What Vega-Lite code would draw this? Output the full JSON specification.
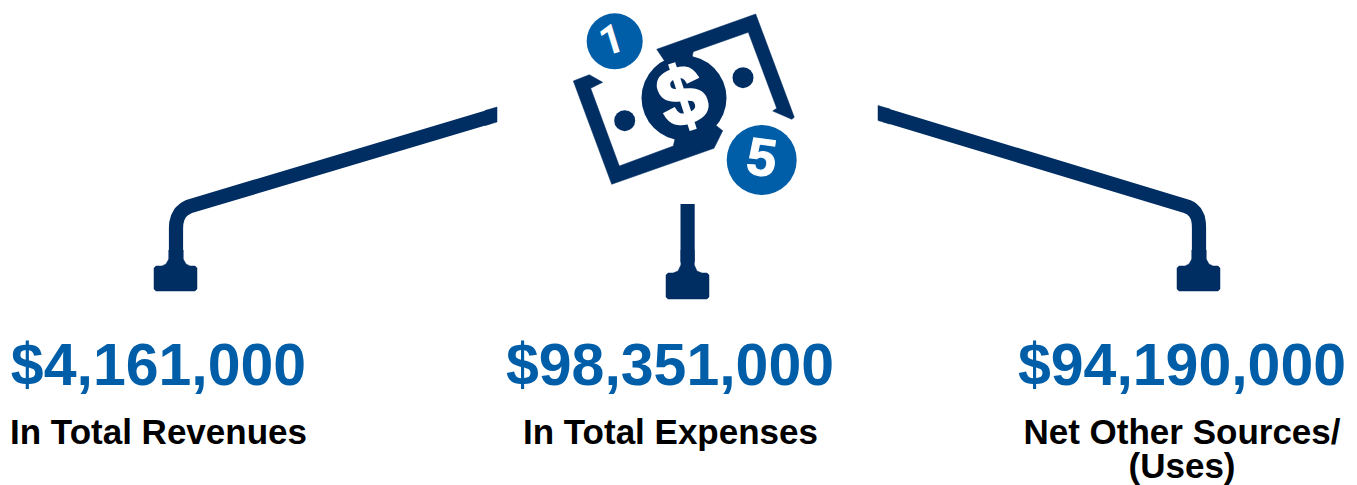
{"$schema":"https://vega.github.io/schema/vega-lite/v6.json","width":1357,"height":485,"padding":0,"autosize":{"type":"none"},"background":"white","config":{"view":{"stroke":null}},
"datasets":{
"shapes":[
{"part":"billTop","i":1,"x":656.7,"y":49.3},{"part":"billTop","i":2,"x":755.7,"y":14},{"part":"billTop","i":3,"x":794.3,"y":117.3},{"part":"billTop","i":4,"x":791.7,"y":119.3},{"part":"billTop","i":5,"x":772.7,"y":111},{"part":"billTop","i":6,"x":776.7,"y":108.3},{"part":"billTop","i":7,"x":748.3,"y":32.3},{"part":"billTop","i":8,"x":693.3,"y":51.7},{"part":"billTop","i":9,"x":684,"y":90},{"part":"billTop","i":10,"x":656.7,"y":49.3},
{"part":"billBottom","i":1,"x":573.3,"y":81},{"part":"billBottom","i":2,"x":589.3,"y":74.7},{"part":"billBottom","i":3,"x":602.7,"y":82.3},{"part":"billBottom","i":4,"x":590.7,"y":88.3},{"part":"billBottom","i":5,"x":619.3,"y":166},{"part":"billBottom","i":6,"x":673.3,"y":146},{"part":"billBottom","i":7,"x":684,"y":100},{"part":"billBottom","i":8,"x":722.7,"y":130.7},{"part":"billBottom","i":9,"x":714,"y":148.3},{"part":"billBottom","i":10,"x":611.7,"y":184.3},{"part":"billBottom","i":11,"x":573.3,"y":81},
{"part":"endL","i":1,"x":485,"y":110.6},{"part":"endL","i":2,"x":497,"y":107},{"part":"endL","i":3,"x":497,"y":122},{"part":"endL","i":4,"x":485,"y":125.6},{"part":"endL","i":5,"x":485,"y":110.6},
{"part":"endR","i":1,"x":890,"y":109.1},{"part":"endR","i":2,"x":878,"y":105.5},{"part":"endR","i":3,"x":878,"y":120.5},{"part":"endR","i":4,"x":890,"y":124.1},{"part":"endR","i":5,"x":890,"y":109.1},
{"part":"footL","i":1,"x":154,"y":268},{"part":"footL","i":2,"x":156,"y":266},{"part":"footL","i":3,"x":162,"y":266},{"part":"footL","i":4,"x":166,"y":264},{"part":"footL","i":5,"x":168.8,"y":259},{"part":"footL","i":6,"x":168.8,"y":250},{"part":"footL","i":7,"x":183.2,"y":250},{"part":"footL","i":8,"x":183.2,"y":259},{"part":"footL","i":9,"x":186,"y":264},{"part":"footL","i":10,"x":190,"y":266},{"part":"footL","i":11,"x":195,"y":266},{"part":"footL","i":12,"x":197,"y":268},{"part":"footL","i":13,"x":197,"y":289},{"part":"footL","i":14,"x":195,"y":291},{"part":"footL","i":15,"x":156,"y":291},{"part":"footL","i":16,"x":154,"y":289},{"part":"footL","i":17,"x":154,"y":268},
{"part":"footM","i":1,"x":666,"y":275},{"part":"footM","i":2,"x":668,"y":273},{"part":"footM","i":3,"x":673,"y":273},{"part":"footM","i":4,"x":678,"y":271},{"part":"footM","i":5,"x":680.9,"y":265},{"part":"footM","i":6,"x":680.9,"y":250},{"part":"footM","i":7,"x":694.3,"y":250},{"part":"footM","i":8,"x":694.3,"y":265},{"part":"footM","i":9,"x":697,"y":271},{"part":"footM","i":10,"x":702,"y":273},{"part":"footM","i":11,"x":707,"y":273},{"part":"footM","i":12,"x":709,"y":275},{"part":"footM","i":13,"x":709,"y":297},{"part":"footM","i":14,"x":707,"y":299},{"part":"footM","i":15,"x":668,"y":299},{"part":"footM","i":16,"x":666,"y":297},{"part":"footM","i":17,"x":666,"y":275},
{"part":"footR","i":1,"x":1177,"y":268},{"part":"footR","i":2,"x":1179,"y":266},{"part":"footR","i":3,"x":1185,"y":266},{"part":"footR","i":4,"x":1189,"y":264},{"part":"footR","i":5,"x":1191.8,"y":259},{"part":"footR","i":6,"x":1191.8,"y":250},{"part":"footR","i":7,"x":1206.2,"y":250},{"part":"footR","i":8,"x":1206.2,"y":259},{"part":"footR","i":9,"x":1209,"y":264},{"part":"footR","i":10,"x":1213,"y":266},{"part":"footR","i":11,"x":1218,"y":266},{"part":"footR","i":12,"x":1220,"y":268},{"part":"footR","i":13,"x":1220,"y":289},{"part":"footR","i":14,"x":1218,"y":291},{"part":"footR","i":15,"x":1179,"y":291},{"part":"footR","i":16,"x":1177,"y":289},{"part":"footR","i":17,"x":1177,"y":268}
],
"connectors":[
{"part":"L","i":1,"x":490,"y":116.6},{"part":"L","i":2,"x":189,"y":206.5},{"part":"L","i":3,"x":184.5,"y":209},{"part":"L","i":4,"x":180.5,"y":212.5},{"part":"L","i":5,"x":177.8,"y":217.5},{"part":"L","i":6,"x":176.3,"y":223},{"part":"L","i":7,"x":176,"y":228},{"part":"L","i":8,"x":176,"y":262},
{"part":"M","i":1,"x":687.6,"y":204},{"part":"M","i":2,"x":687.6,"y":262},
{"part":"R","i":1,"x":885,"y":115.1},{"part":"R","i":2,"x":1187,"y":206.5},{"part":"R","i":3,"x":1191.5,"y":208.7},{"part":"R","i":4,"x":1195.2,"y":212.5},{"part":"R","i":5,"x":1197.8,"y":217.5},{"part":"R","i":6,"x":1198.8,"y":223},{"part":"R","i":7,"x":1199,"y":228},{"part":"R","i":8,"x":1199,"y":262}
],
"coins":[{"name":"1","x":614.7,"y":41.3,"s":3136},{"name":"5","x":761.7,"y":160,"s":4900}],
"bill":[{"x":684,"y":98,"s":7225},{"x":624.7,"y":120.7,"s":441},{"x":743,"y":77.7,"s":441}]
},
"layer":[
{"data":{"name":"bill"},"mark":{"type":"point","filled":true,"opacity":1,"color":"#002d62"},"encoding":{"x":{"field":"x","type":"quantitative","scale":{"domain":[0,1357],"nice":false,"zero":false},"axis":null},"y":{"field":"y","type":"quantitative","scale":{"domain":[485,0],"nice":false,"zero":false},"axis":null},"size":{"field":"s","type":"quantitative","scale":null}}},
{"data":{"name":"shapes"},"mark":{"type":"line","fill":"#002d62","stroke":"#002d62","strokeWidth":0.5},"encoding":{"x":{"field":"x","type":"quantitative"},"y":{"field":"y","type":"quantitative"},"detail":{"field":"part"},"order":{"field":"i"}}},
{"data":{"name":"connectors"},"mark":{"type":"line","stroke":"#002d62","strokeWidth":14.2,"strokeCap":"butt","strokeJoin":"round"},"encoding":{"x":{"field":"x","type":"quantitative"},"y":{"field":"y","type":"quantitative"},"detail":{"field":"part"},"order":{"field":"i"}}},
{"data":{"name":"coins"},"mark":{"type":"point","filled":true,"opacity":1,"color":"#005ea8"},"encoding":{"x":{"field":"x","type":"quantitative"},"y":{"field":"y","type":"quantitative"},"size":{"field":"s","type":"quantitative","scale":null}}},
{"data":{"values":[{"t":"1","x":612,"y":41.5}]},"mark":{"type":"text","font":"Roboto","fontWeight":"bold","fontSize":41,"color":"white","angle":-17,"baseline":"middle"},"encoding":{"x":{"field":"x","type":"quantitative"},"y":{"field":"y","type":"quantitative"},"text":{"field":"t"}}},
{"data":{"values":[{"t":"5","x":761.5,"y":159.5}]},"mark":{"type":"text","font":"Liberation Sans","fontWeight":"bold","fontSize":53,"color":"white","stroke":"white","strokeWidth":1,"angle":8,"baseline":"middle"},"encoding":{"x":{"field":"x","type":"quantitative"},"y":{"field":"y","type":"quantitative"},"text":{"field":"t"}}},
{"data":{"values":[{"t":"$","x":683,"y":99}]},"mark":{"type":"text","font":"Liberation Sans","fontWeight":"bold","fontSize":82,"color":"white","stroke":"white","strokeWidth":3,"angle":-18,"baseline":"middle"},"encoding":{"x":{"field":"x","type":"quantitative"},"y":{"field":"y","type":"quantitative"},"text":{"field":"t"}}},
{"data":{"values":[{"t":"$4,161,000","x":158.5,"y":385},{"t":"$98,351,000","x":670,"y":385},{"t":"$94,190,000","x":1182,"y":385}]},"mark":{"type":"text","font":"Liberation Sans","fontWeight":"bold","fontSize":59,"color":"#005ea8","align":"center","baseline":"alphabetic"},"encoding":{"x":{"field":"x","type":"quantitative"},"y":{"field":"y","type":"quantitative"},"text":{"field":"t"}}},
{"data":{"values":[{"t":"In Total Revenues","x":158.5,"y":444},{"t":"In Total Expenses","x":670.5,"y":444},{"t":["Net Other Sources/","(Uses)"],"x":1182,"y":444}]},"mark":{"type":"text","font":"Liberation Sans","fontWeight":"bold","fontSize":35,"lineHeight":34,"color":"#000000","align":"center","baseline":"alphabetic"},"encoding":{"x":{"field":"x","type":"quantitative"},"y":{"field":"y","type":"quantitative"},"text":{"field":"t"}}}
]}
